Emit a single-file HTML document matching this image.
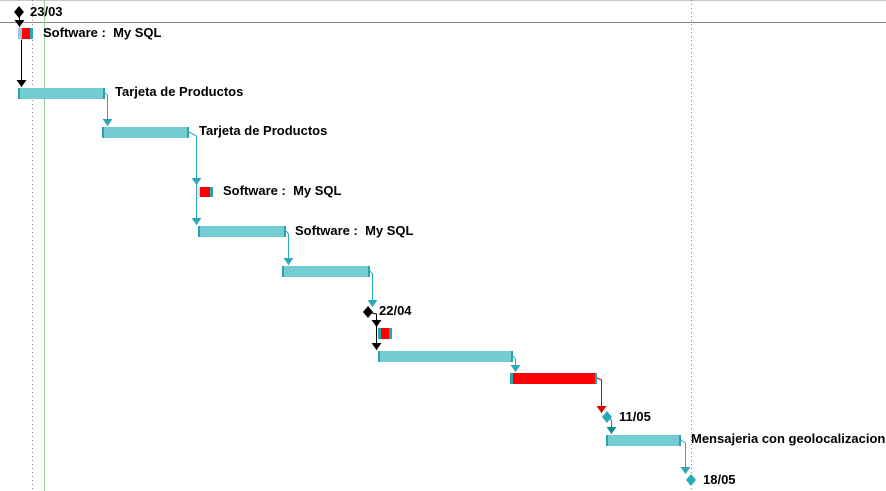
<!DOCTYPE html>
<html><head><meta charset="utf-8"><style>
html,body{margin:0;padding:0;background:#fff;}
svg{display:block;}
text{font-family:"Liberation Sans",sans-serif;font-weight:bold;font-size:13px;fill:#000;}
</style></head><body>
<svg width="886" height="491" viewBox="0 0 886 491" xmlns="http://www.w3.org/2000/svg">
<defs>
<marker id="at" markerWidth="10" markerHeight="8" refX="5" refY="7" orient="0" markerUnits="userSpaceOnUse"><path d="M0,0 L10,0 L5,7 Z" fill="#2aaab8"/></marker>
<marker id="ab" markerWidth="10" markerHeight="8" refX="5" refY="7" orient="0" markerUnits="userSpaceOnUse"><path d="M0,0 L10,0 L5,7 Z" fill="#000"/></marker>
<marker id="ar" markerWidth="10" markerHeight="8" refX="5" refY="7" orient="0" markerUnits="userSpaceOnUse"><path d="M0,0 L10,0 L5,7 Z" fill="#e00000"/></marker>
<marker id="ad" markerWidth="10" markerHeight="8" refX="5" refY="7" orient="0" markerUnits="userSpaceOnUse"><path d="M0,0 L10,0 L5,7 Z" fill="#138a8f"/></marker>
</defs>
<line x1="0" y1="0.5" x2="886" y2="0.5" stroke="#c8c8c8"/>
<line x1="0" y1="22.5" x2="886" y2="22.5" stroke="#888"/>
<line x1="32.5" y1="0" x2="32.5" y2="491" stroke="#888" stroke-dasharray="1,3"/>
<line x1="691.5" y1="0" x2="691.5" y2="491" stroke="#888" stroke-dasharray="1,3"/>
<line x1="44.5" y1="0" x2="44.5" y2="491" stroke="#9fc79f"/>

<g fill="none" stroke-width="1">
<path d="M19.5,12 L19.5,27" stroke="#000" marker-end="url(#ab)"/>
<path d="M21,40 L21.5,40 L21.5,87" stroke="#000" marker-end="url(#ab)"/>
<path d="M105,93 L107.5,95 L107.5,126" stroke="#2aaab8" marker-end="url(#at)"/>
<path d="M189,132 L196.5,136 L196.5,225" stroke="#2aaab8" marker-end="url(#at)"/>
<path d="M196.5,150 L196.5,185" stroke="#2aaab8" marker-end="url(#at)"/>
<path d="M286,231 L288.5,234 L288.5,265" stroke="#2aaab8" marker-end="url(#at)"/>
<path d="M370,271 L372.5,274 L372.5,307" stroke="#2aaab8" marker-end="url(#at)"/>
<path d="M368,312 L376.5,314 L376.5,350" stroke="#000" marker-end="url(#ab)"/>
<path d="M376.5,320 L376.5,327" stroke="#000" marker-end="url(#ab)"/>
<path d="M513,356 L515.5,359 L515.5,372" stroke="#2aaab8" marker-end="url(#at)"/>
<path d="M597,378 L601.5,380 L601.5,413" stroke="#e00000" marker-end="url(#ar)"/>
<path d="M607,417 L611.5,420 L611.5,434" stroke="#138a8f" marker-end="url(#ad)"/>
<path d="M681,440 L685.5,443 L685.5,474" stroke="#2aaab8" marker-end="url(#at)"/>
</g>

<path d="M19,6 L24,12 L19,18 L14,12 Z" fill="#000"/>
<path d="M368,306 L373,312 L368,318 L363,312 Z" fill="#000"/>
<path d="M607,411 L612,417 L607,423 L602,417 Z" fill="#2aaab8"/>
<path d="M691,474 L696,480 L691,486 L686,480 Z" fill="#2aaab8"/>

<rect x="18" y="28" width="4" height="11" fill="#9fc3e0"/>
<rect x="22" y="28" width="8" height="11" fill="#ff0000"/>
<rect x="30" y="28" width="3" height="11" fill="#2aaab8"/>

<g fill="#74ccd3">
<rect x="18" y="88" width="87" height="11"/>
<rect x="102" y="127" width="87" height="11"/>
<rect x="198" y="226" width="88" height="11"/>
<rect x="282" y="266" width="88" height="11"/>
<rect x="378" y="351" width="135" height="11"/>
<rect x="606" y="435" width="75" height="11"/>
</g>
<rect x="510" y="373" width="87" height="11" fill="#ff0000"/>
<rect x="200" y="187" width="13" height="10" fill="#ff0000"/>
<rect x="378" y="328" width="14" height="11" fill="#ff0000"/>
<g fill="#2aa3ab">
<rect x="18" y="88" width="2" height="11"/><rect x="103" y="88" width="2" height="11"/>
<rect x="102" y="127" width="2" height="11"/><rect x="187" y="127" width="2" height="11"/>
<rect x="198" y="226" width="2" height="11"/><rect x="284" y="226" width="2" height="11"/>
<rect x="282" y="266" width="2" height="11"/><rect x="368" y="266" width="2" height="11"/>
<rect x="378" y="351" width="2" height="11"/><rect x="511" y="351" width="2" height="11"/>
<rect x="510" y="373" width="3" height="11"/><rect x="595" y="373" width="2" height="11"/>
<rect x="606" y="435" width="2" height="11"/><rect x="679" y="435" width="2" height="11"/>
<rect x="210" y="187" width="3" height="10"/>
<rect x="378" y="328" width="3" height="11"/><rect x="389" y="328" width="3" height="11"/>
</g>
<rect x="198" y="187" width="2" height="10" fill="#c9dff0"/>

<text x="30" y="16">23/03</text>
<text x="43" y="37" xml:space="preserve">Software :  My SQL</text>
<text x="115" y="96">Tarjeta de Productos</text>
<text x="199" y="135">Tarjeta de Productos</text>
<text x="223" y="195" xml:space="preserve">Software :  My SQL</text>
<text x="295" y="235" xml:space="preserve">Software :  My SQL</text>
<text x="379" y="315">22/04</text>
<text x="619" y="421">11/05</text>
<text x="691" y="443">Mensajeria con geolocalizacion</text>
<text x="703" y="484">18/05</text>
</svg>
</body></html>
